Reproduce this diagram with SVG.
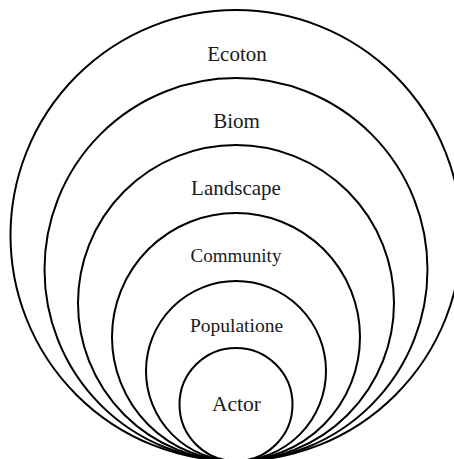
<svg xmlns="http://www.w3.org/2000/svg" width="454" height="459" viewBox="0 0 454 459">
<style>
.c{fill:none;stroke:#000;stroke-width:2}
.t{font-family:"Liberation Serif","Times New Roman",serif;text-anchor:middle;fill:#1a1a1a}
</style>
<rect width="454" height="459" fill="#fff"/>
<g id="ecoton"><circle class="c" cx="236" cy="235.5" r="225.5"/><text class="t" x="237" y="61" font-size="21">Ecoton</text></g>
<g id="biom"><circle class="c" cx="236" cy="269.5" r="191.5"/><text class="t" x="236.5" y="128" font-size="21">Biom</text></g>
<g id="landscape"><circle class="c" cx="236" cy="303" r="158"/><text class="t" x="236" y="195" font-size="21">Landscape</text></g>
<g id="community"><circle class="c" cx="236" cy="337" r="124"/><text class="t" x="236" y="262" font-size="19">Community</text></g>
<g id="populatione"><circle class="c" cx="236" cy="371" r="90"/><text class="t" x="236.5" y="332" font-size="19.5">Populatione</text></g>
<g id="actor"><circle class="c" cx="236" cy="404.5" r="56.5"/><text class="t" x="236.5" y="411" font-size="21.5">Actor</text></g>
<g id="connectors"/>
</svg>
